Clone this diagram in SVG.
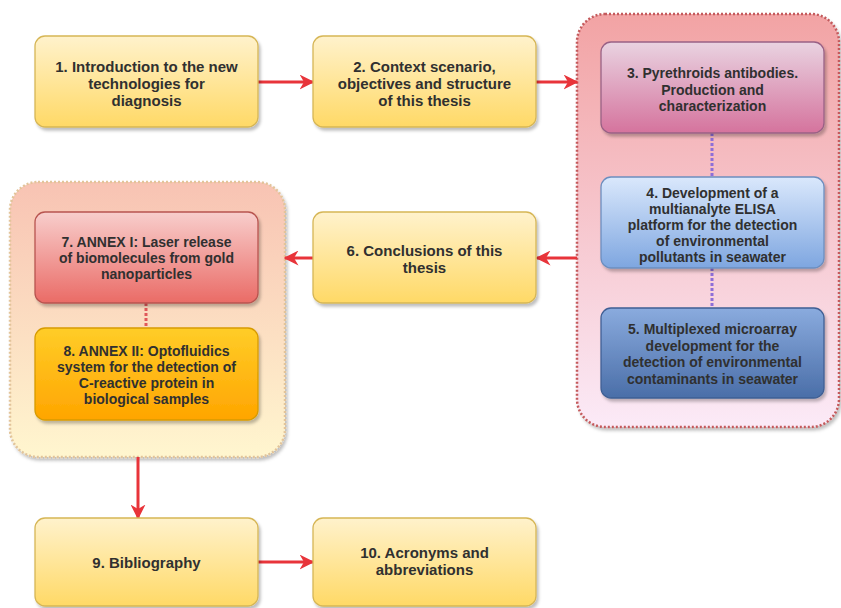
<svg xmlns="http://www.w3.org/2000/svg" width="841" height="608" viewBox="0 0 841 608">
<defs>
<linearGradient id="gY" x1="0" y1="0" x2="0" y2="1"><stop offset="0" stop-color="#fff2cc"/><stop offset="1" stop-color="#ffd966"/></linearGradient>
<linearGradient id="gPk" x1="0" y1="0" x2="0" y2="1"><stop offset="0" stop-color="#e9d3e1"/><stop offset="1" stop-color="#d5739d"/></linearGradient>
<linearGradient id="gLB" x1="0" y1="0" x2="0" y2="1"><stop offset="0" stop-color="#dae8fc"/><stop offset="1" stop-color="#7ea6e0"/></linearGradient>
<linearGradient id="gDB" x1="0" y1="0" x2="0" y2="1"><stop offset="0" stop-color="#8aabde"/><stop offset="1" stop-color="#4a6ea8"/></linearGradient>
<linearGradient id="gR" x1="0" y1="0" x2="0" y2="1"><stop offset="0" stop-color="#f8cecc"/><stop offset="1" stop-color="#ea6b66"/></linearGradient>
<linearGradient id="gO" x1="0" y1="0" x2="0" y2="1"><stop offset="0" stop-color="#ffcd28"/><stop offset="1" stop-color="#ffa500"/></linearGradient>
<linearGradient id="gCR" x1="0" y1="0" x2="0" y2="1"><stop offset="0" stop-color="#f2a3a4"/><stop offset="1" stop-color="#fbeaf7"/></linearGradient>
<linearGradient id="gCL" x1="0" y1="0" x2="0" y2="1"><stop offset="0" stop-color="#f8c3b3"/><stop offset="1" stop-color="#fff6cf"/></linearGradient>
<filter id="sh" x="-10%" y="-10%" width="130%" height="130%"><feDropShadow dx="2" dy="3" stdDeviation="1.5" flood-color="#000" flood-opacity="0.25"/></filter>
<marker id="ah" viewBox="0 0 10 10" refX="9" refY="5" markerWidth="5" markerHeight="5" orient="auto" markerUnits="strokeWidth"><path d="M0,0 L10,5 L0,10 L3,5 z" fill="#e8343a"/></marker>
</defs>
<style>
.box{stroke-width:1.3;filter:url(#sh)}
.y{fill:url(#gY);stroke:#d6b656}
.t{font-family:"Liberation Sans",Arial,sans-serif;font-size:14px;font-weight:bold;fill:#303030;text-anchor:middle}
.l{font-size:15px}
.ar{stroke:#e8343a;stroke-width:3;fill:none;marker-end:url(#ah)}
.dot{fill:none;stroke-width:3;stroke-dasharray:3 2}
</style>
<rect width="841" height="608" fill="#ffffff"/>
<g id="container-right"><rect x="577" y="14" width="262" height="413" rx="28" fill="url(#gCR)" stroke="#c45a5c" stroke-width="2.5" stroke-dasharray="2 2" filter="url(#sh)"/></g>
<g id="container-left"><rect x="10" y="182" width="275" height="275" rx="28" fill="url(#gCL)" stroke="#e2c49a" stroke-width="2.5" stroke-dasharray="2 2" filter="url(#sh)"/></g>
<g id="connectors">
<line class="ar" x1="258" y1="82" x2="313" y2="82"/>
<line class="ar" x1="536" y1="82" x2="577" y2="82"/>
<line class="ar" x1="577" y1="258" x2="537" y2="258"/>
<line class="ar" x1="313" y1="258" x2="285" y2="258"/>
<line class="ar" x1="138" y1="457" x2="138" y2="518"/>
<line class="ar" x1="258" y1="562" x2="313" y2="562"/>
<line class="dot" x1="712" y1="133" x2="712" y2="177" stroke="#8e6ed8"/>
<line class="dot" x1="712" y1="268" x2="712" y2="308" stroke="#8e6ed8"/>
<line class="dot" x1="146" y1="303" x2="146" y2="328" stroke="#e0585a"/>
</g>
<g id="n1"><rect class="box y" x="35" y="36" width="223" height="91" rx="10"/><text class="t l" x="146.5" y="72">1. Introduction to the new</text><text class="t l" x="146.5" y="89">technologies for</text><text class="t l" x="146.5" y="106">diagnosis</text></g>
<g id="n2"><rect class="box y" x="313" y="36" width="223" height="91" rx="10"/><text class="t l" x="424.5" y="72">2. Context scenario,</text><text class="t l" x="424.5" y="89">objectives and structure</text><text class="t l" x="424.5" y="106">of this thesis</text></g>
<g id="n3"><rect class="box" x="601" y="42" width="223" height="91" rx="10" fill="url(#gPk)" stroke="#996185"/><text class="t" x="712.5" y="78">3. Pyrethroids antibodies.</text><text class="t" x="712.5" y="94.5">Production and</text><text class="t" x="712.5" y="111">characterization</text></g>
<g id="n4"><rect class="box" x="601" y="177" width="223" height="91" rx="10" fill="url(#gLB)" stroke="#6c8ebf"/><text class="t" x="712.5" y="198">4. Development of a</text><text class="t" x="712.5" y="214">multianalyte ELISA</text><text class="t" x="712.5" y="230">platform for the detection</text><text class="t" x="712.5" y="246">of environmental</text><text class="t" x="712.5" y="262">pollutants in seawater</text></g>
<g id="n5"><rect class="box" x="601" y="308" width="223" height="90" rx="10" fill="url(#gDB)" stroke="#3f5f94"/><text class="t" x="712.5" y="334">5. Multiplexed microarray</text><text class="t" x="712.5" y="350.5">development for the</text><text class="t" x="712.5" y="367">detection of environmental</text><text class="t" x="712.5" y="383.5">contaminants in seawater</text></g>
<g id="n6"><rect class="box y" x="313" y="212" width="223" height="91" rx="10"/><text class="t l" x="424.5" y="256">6. Conclusions of this</text><text class="t l" x="424.5" y="273">thesis</text></g>
<g id="n7"><rect class="box" x="35" y="212" width="223" height="91" rx="10" fill="url(#gR)" stroke="#b85450"/><text class="t" x="146.5" y="247">7. ANNEX I: Laser release</text><text class="t" x="146.5" y="263">of biomolecules from gold</text><text class="t" x="146.5" y="279">nanoparticles</text></g>
<g id="n8"><rect class="box" x="35" y="328" width="223" height="92" rx="10" fill="url(#gO)" stroke="#d79b00"/><text class="t" x="146.5" y="356">8. ANNEX II: Optofluidics</text><text class="t" x="146.5" y="372">system for the detection of</text><text class="t" x="146.5" y="388">C-reactive protein in</text><text class="t" x="146.5" y="404">biological samples</text></g>
<g id="n9"><rect class="box y" x="35" y="518" width="223" height="88" rx="10"/><text class="t l" x="146.5" y="568">9. Bibliography</text></g>
<g id="n10"><rect class="box y" x="313" y="518" width="223" height="88" rx="10"/><text class="t l" x="424.5" y="558">10. Acronyms and</text><text class="t l" x="424.5" y="575">abbreviations</text></g>
</svg>
